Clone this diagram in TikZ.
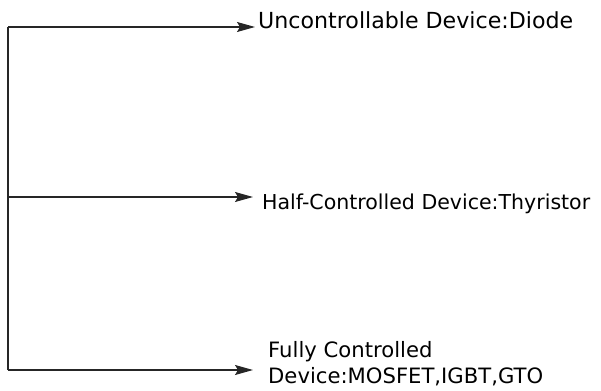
\documentclass[tikz,border=0pt]{standalone}
\usepackage{fontspec}
\setmainfont{DejaVu Sans}
\usetikzlibrary{arrows.meta}
\newcommand{\fitw}[2]{\resizebox{#1}{!}{#2}}
\begin{document}
\begin{tikzpicture}[x=1pt,y=-1pt,
  conn/.style={line width=1.2pt, draw=black!85},
  arr/.style={conn,-{Stealth[length=18pt,width=10pt,inset=3pt]}},
  lbl/.style={inner sep=0pt, font=\fontsize{18}{26}\selectfont}]
\useasboundingbox (0,0) rectangle (601,390);
\coordinate (c1) at (8,27);
\coordinate (c2) at (8,197);
\coordinate (c3) at (8,370);
\node[lbl, anchor=base west] (n1) at (258,29) {\fitw{315pt}{Uncontrollable Device:Diode}};
\node[lbl, anchor=base west] (n2) at (262,209) {\fitw{328pt}{Half-Controlled Device:Thyristor}};
\node[lbl, anchor=base west] (n3) at (268,383) {\renewcommand{\arraystretch}{0.85}\fitw{275pt}{\begin{tabular}[b]{@{}l@{}}Fully Controlled\\Device:MOSFET,IGBT,GTO\end{tabular}}};
\draw[conn] (c3) -- (c1);
\draw[arr, shorten >=3pt] (c1) -- (c1 -| n1.west);
\draw[arr, shorten >=9pt] (c2) -- (c2 -| n2.west);
\draw[arr, shorten >=15pt] (c3) -- (c3 -| n3.west);
\end{tikzpicture}
\end{document}
